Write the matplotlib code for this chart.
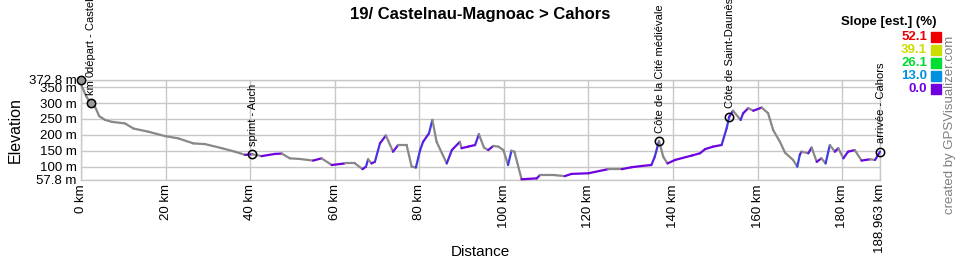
import numpy as np
import matplotlib
matplotlib.use("Agg")
import matplotlib.pyplot as plt
from matplotlib.collections import LineCollection
from matplotlib.colors import LinearSegmentedColormap
from matplotlib.patches import Rectangle

plt.rcParams['font.family'] = ['Liberation Sans', 'DejaVu Sans']

# ---- data read from the profile ----
dist = [0.0, 0.2, 1.3, 2.3, 3.3, 4.3, 5.7, 7.3, 10.4, 12.4, 15.9, 19.9, 23.0,
        26.6, 29.3, 33.3, 36.4, 38.8, 40.5, 42.7, 45.9, 47.5, 49.4, 51.8,
        54.9, 56.9, 59.3, 62.4, 64.8, 66.6, 67.4, 67.9, 68.7, 69.5, 70.7,
        72.1, 73.8, 75.0, 77.0, 78.2, 79.2, 80.2, 80.9, 82.3, 83.1, 84.1,
        86.5, 87.7, 89.6, 90.0, 91.6, 93.2, 94.1, 95.3, 96.3, 97.5, 98.7,
        99.9, 101.0, 101.8, 102.5, 104.2, 107.8, 108.5, 112.1, 114.4, 116.0,
        120.0, 124.7, 127.9, 130.2, 132.6, 134.9, 135.7, 136.7, 137.7, 138.7,
        140.5, 144.5, 146.4, 147.6, 149.5, 151.5, 152.7, 153.3, 154.2, 156.0,
        156.6, 157.8, 159.0, 161.0, 162.5, 163.7, 165.3, 166.5, 168.4, 169.4,
        170.0, 170.4, 172.0, 172.8, 174.0, 175.1, 176.1, 177.1, 178.3, 179.1,
        180.3, 181.4, 183.0, 184.6, 186.6, 187.8, 188.963]
elev = [372.8, 352, 320, 299, 289, 259, 247, 241, 236, 220, 210, 196, 189,
        173, 171, 158, 147, 137, 139, 133, 140, 141, 126, 124,
        119, 126, 105, 110, 110, 92, 100, 123, 110, 115, 173,
        198, 147, 168, 168, 100, 97, 152, 178, 205, 247, 178,
        110, 152, 178, 158, 163, 168, 202, 160, 152, 165, 163,
        152, 105, 150, 147, 60, 63, 73, 73, 70, 77,
        79, 92, 92, 98, 102, 105, 131, 181, 131, 110,
        121, 135, 142, 155, 163, 168, 221, 257, 276, 247,
        268, 284, 276, 286, 268, 215, 178, 144, 121, 100,
        137, 147, 142, 160, 115, 126, 110, 168, 147, 158,
        126, 147, 152, 119, 123, 121, 147]

wp_names = ["départ - Castelnau-Magnoac", "km 0", "sprint - Auch",
            "Côte de la Cité médiévale", "Côte de Saint-Daunès", "arrivée - Cahors"]
wp_dist = [0.0, 2.3, 40.5, 136.7, 153.3, 188.963]
wp_elev = [372.8, 299, 139, 181, 257, 147]

x_ticks = [0, 20, 40, 60, 80, 100, 120, 140, 160, 180, 188.963]
x_labels = ["0 km", "20 km", "40 km", "60 km", "80 km", "100 km", "120 km",
            "140 km", "160 km", "180 km", "188.963 km"]
y_ticks = [57.8, 100, 150, 200, 250, 300, 350, 372.8]
y_labels = ["57.8 m", "100 m", "150 m", "200 m", "250 m", "300 m", "350 m", "372.8 m"]

slope_vals = [52.1, 39.1, 26.1, 13.0, 0.0]
slope_cols = ["#ee0000", "#ccdd00", "#00dd33", "#0090e0", "#7000e0"]

# ---- figure ----
fig = plt.figure(figsize=(9.6, 2.6), dpi=100)
ax = fig.add_axes([81/960, 1-180/260, 799/960, 100/260])

cmap = LinearSegmentedColormap.from_list(
    "slope", [(v/52.1, c) for v, c in zip(slope_vals[::-1], slope_cols[::-1])])

d = np.array(dist)
e = np.array(elev)
pts = np.column_stack([d, e]).reshape(-1, 1, 2)
segs = np.concatenate([pts[:-1], pts[1:]], axis=1)
pente = np.diff(e) / (np.diff(d)*1000) * 100
cols = ["#888888" if p <= 0 else cmap(min(p, 52.1)/52.1) for p in pente]
lc = LineCollection(segs, colors=cols, linewidths=1.6, capstyle="round",
                    joinstyle="round", clip_on=False, zorder=3)
ax.add_collection(lc)

for i, (nom, xd, ye) in enumerate(zip(wp_names, wp_dist, wp_elev)):
    fc = "#999999" if i < 2 else "none"
    ax.plot(xd, ye, "o", ms=6, mfc=fc, mec="black", mew=1.1,
            clip_on=False, zorder=4)
    dx = 7 if i == 0 else 0.5
    dy = 5.5 if i == 0 else 6
    ax.annotate(nom, (xd, ye), xytext=(dx, dy), textcoords="offset points",
                rotation=90, ha="center", va="bottom", fontsize=8,
                annotation_clip=False, zorder=5)

ax.set_xlim(0, 188.963)
ax.set_ylim(57.8, 372.8)
ax.set_xticks(x_ticks)
ax.set_xticklabels(x_labels, rotation=90, fontsize=9.5)
ax.set_yticks(y_ticks)
ax.set_yticklabels(y_labels, fontsize=9.5)
ax.tick_params(length=0, pad=3)
ax.grid(True, color="#c8c8c8", lw=1)
for sp in ax.spines.values():
    sp.set_color("#c8c8c8")
    sp.set_linewidth(1)

fig.text(480/960, 1-14/260, "19/ Castelnau-Magnoac > Cahors", ha="center",
         va="center", fontsize=12, fontweight="bold")
fig.text(15/960, 1-130/260, "Elevation", rotation=90, ha="center",
         va="center", fontsize=11.5)
fig.text(480/960, 1-252/260, "Distance", ha="center", va="center",
         fontsize=11)

# légende des pentes
fig.text(889/960, 1-22/260, "Slope [est.] (%)", ha="center", va="center",
         fontsize=9.5, fontweight="bold")
for k, (v, c) in enumerate(zip(slope_vals, slope_cols)):
    yc = 37 + k*13
    fig.text(927/960, 1-yc/260, f"{v:.1f}", ha="right", va="center",
             fontsize=9.5, fontweight="bold", color=c)
    fig.patches.append(Rectangle((931/960, 1-(yc+5)/260), 9.5/960, 10/260,
                                 transform=fig.transFigure, color=c))

fig.text(950/960, 1-125/260, "created by GPSVisualizer.com", rotation=90,
         ha="center", va="center", fontsize=9.5, color="#808080")

plt.savefig("out.png", dpi=100)
plt.close()
